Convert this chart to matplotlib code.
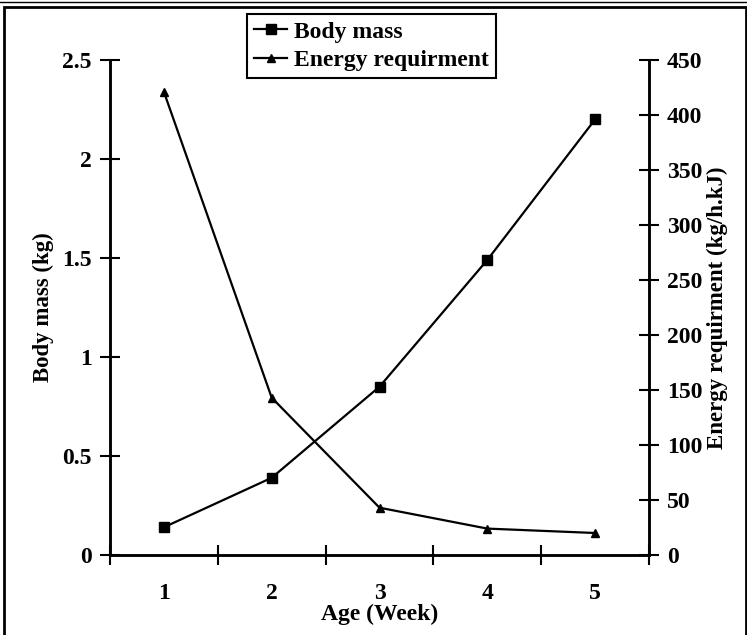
import matplotlib
matplotlib.use("Agg")
import matplotlib.pyplot as plt
from matplotlib.patches import Rectangle
from matplotlib.lines import Line2D

# values
weeks = [1, 2, 3, 4, 5]
week_labels = ["1", "2", "3", "4", "5"]
body_mass = [0.14, 0.39, 0.85, 1.49, 2.20]
energy = [421, 143, 43, 24, 20]
mass_ticks = [0, 0.5, 1, 1.5, 2, 2.5]
mass_tick_labels = ["0", "0.5", "1", "1.5", "2", "2.5"]
energy_ticks = [0, 50, 100, 150, 200, 250, 300, 350, 400, 450]

plt.rcParams["font.family"] = ["Liberation Serif", "DejaVu Serif"]
plt.rcParams["font.weight"] = "bold"

fig = plt.figure(figsize=(7.47, 6.35), dpi=100)
ax = fig.add_axes([110 / 747, 1 - 555 / 635, (649 - 110) / 747, (555 - 60) / 635])
ax2 = ax.twinx()

l1, = ax.plot(weeks, body_mass, color="black", lw=1.6, marker="s", ms=7, label="Body mass")
l2, = ax2.plot(weeks, energy, color="black", lw=1.6, marker="^", ms=6, label="Energy requirment")

ax.set_xlim(0.5, 5.5)
ax.set_ylim(0, 2.5)
ax2.set_ylim(0, 450)

# category boundaries as major ticks, labels on minor ticks at centres
ax.set_xticks([0.5, 1.5, 2.5, 3.5, 4.5, 5.5])
ax.set_xticklabels([])
ax.set_xticks(weeks, minor=True)
ax.set_xticklabels(week_labels, minor=True)
ax.tick_params(axis="x", which="major", direction="inout", length=14, width=1.5)
ax.tick_params(axis="x", which="minor", length=0, pad=20, labelsize=17)

ax.set_yticks(mass_ticks)
ax.set_yticklabels(mass_tick_labels)
ax.tick_params(axis="y", direction="inout", length=14, width=1.5, labelsize=17, pad=6)
ax2.set_yticks(energy_ticks)
ax2.tick_params(axis="y", direction="inout", length=14, width=1.5, labelsize=17, pad=6)

for a in (ax, ax2):
    a.spines["top"].set_visible(False)
    for s in ("left", "right", "bottom"):
        a.spines[s].set_linewidth(1.8)

ax.set_xlabel("Age (Week)", fontsize=17, fontweight="bold", labelpad=0)
ax.set_ylabel("Body mass (kg)", fontsize=16.5, fontweight="bold", labelpad=6)
ax2.set_ylabel("Energy requirment (kg/h.kJ)", fontsize=16.5, fontweight="bold", labelpad=3)

leg = fig.legend(handles=[l1, l2], loc="upper left",
                 bbox_to_anchor=(247 / 747, 1 - 14 / 635),
                 fontsize=17, frameon=True, fancybox=False, framealpha=1,
                 edgecolor="black", handlelength=1.4, handletextpad=0.3,
                 borderpad=0.3, labelspacing=0.3, borderaxespad=0)
leg.get_frame().set_linewidth(1.5)
for t in leg.get_texts():
    t.set_fontweight("bold")

# outer frame of the figure
fig.patches.append(Rectangle((4 / 747, -0.01), 742 / 747, 1 - 7 / 635 + 0.01,
                             transform=fig.transFigure, fill=False,
                             edgecolor="black", lw=2))
fig.lines.append(Line2D([0, 1], [1 - 2 / 635, 1 - 2 / 635],
                        transform=fig.transFigure, color="black", lw=1))

fig.savefig("out.png", dpi=100)
